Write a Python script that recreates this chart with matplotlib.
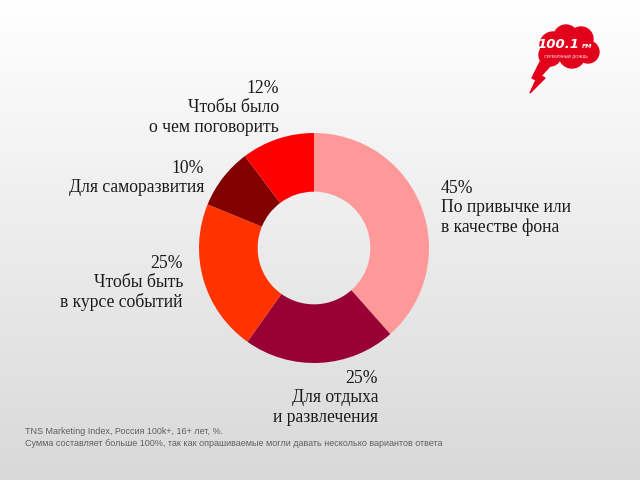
import numpy as np
import matplotlib
matplotlib.use("Agg")
import matplotlib.pyplot as plt
from matplotlib.patches import Circle, Polygon

values = [45, 25, 25, 10, 12]
pcts = ["45%", "25%", "25%", "10%", "12%"]
names = ["По привычке или\nв качестве фона", "Для отдыха\nи развлечения",
         "Чтобы быть\nв курсе событий", "Для саморазвития", "Чтобы было\nо чем поговорить"]
colors = ["#FF9999", "#990033", "#FF3300", "#820000", "#FF0000"]
footer = ["TNS Marketing Index, Россия 100k+, 16+ лет, %.",
          "Сумма составляет больше 100%, так как опрашиваемые могли давать несколько вариантов ответа"]

W, H = 640, 480
fig = plt.figure(figsize=(6.4, 4.8), dpi=100)
ax = fig.add_axes([0, 0, 1, 1])

# gradient background
grad = np.linspace(1.0, 0.85, 256).reshape(-1, 1)
ax.imshow(np.dstack([grad, grad, grad]), extent=[0, W, 0, H], aspect="auto", zorder=0,
          origin="upper")

cx, cy, r = 314, H - 248, 115
ax.pie(values, colors=colors, startangle=90, counterclock=False, center=(cx, cy), radius=r,
       wedgeprops=dict(width=r * 0.51, edgecolor="none", zorder=2), frame=True)
ax.set_xlim(0, W)
ax.set_ylim(0, H)
ax.set_aspect("auto")
ax.axis("off")

serif = "Liberation Serif"
fs = 12.7
step = 19.3
# label positions: (x, baseline of first line, ha)
pos = [(441, 193, "left"), (378, 383, "right"), (183, 268, "right"), (204, 173, "right"), (279, 93, "right")]
for p, n, (x, y, ha) in zip(pcts, names, pos):
    lines = [p] + n.split("\n")
    for i, ln in enumerate(lines):
        ax.text(x, H - (y + i * step), ln, ha=ha, va="baseline", fontsize=fs, family=serif,
                color="#1a1a1a", zorder=3)

ax.text(25, H - 431, footer[0], fontsize=6.5, family="Liberation Sans", color="#606060", va="center")
ax.text(25, H - 443, footer[1], fontsize=6.5, family="Liberation Sans", color="#606060", va="center")

# logo
red = "#E2001A"
for (x, y, rr) in [(553, 45, 13), (566, 37, 12), (581, 39, 12), (588, 52, 11), (572, 55, 13), (550, 55, 11)]:
    ax.add_patch(Circle((x, H - y), rr, color=red, zorder=4))
ax.add_patch(Polygon([(540, H - 62), (550, H - 66), (541, H - 76), (545, H - 78), (530, H - 93),
                      (536, H - 80), (532, H - 78)], closed=True, color=red, zorder=4))
ax.text(558, H - 45, "100.1", fontsize=9.5, fontweight="bold", style="italic", color="white",
        ha="center", va="center", family="DejaVu Sans", zorder=5)
ax.text(587, H - 47, "FM", fontsize=4.5, fontweight="bold", style="italic", color="white",
        ha="center", va="center", family="DejaVu Sans", zorder=5)
ax.text(566, H - 57, "СЕРЕБРЯНЫЙ ДОЖДЬ", fontsize=2.8, color="white", ha="center", va="center",
        family="DejaVu Sans", zorder=5)

fig.savefig("out.png", dpi=100)
